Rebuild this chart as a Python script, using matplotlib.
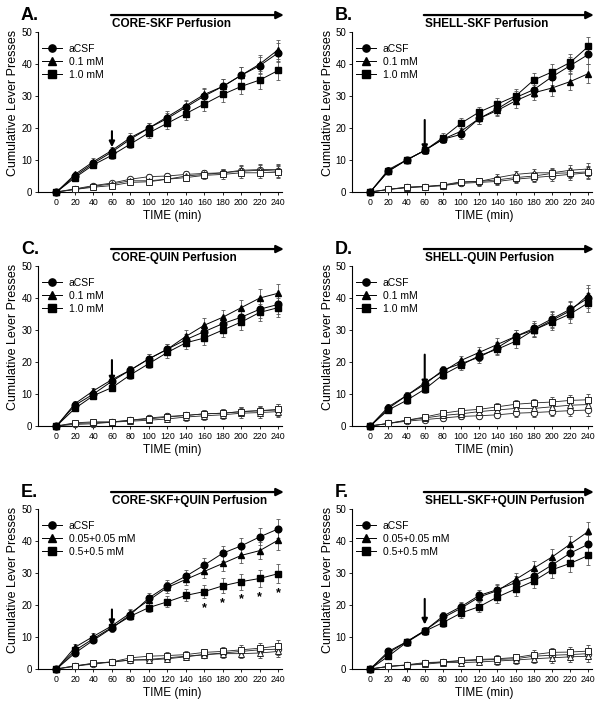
"""Cumulative lever presses over a 4 h session, six perfusion panels (A-F).

Filled symbols = active lever, open symbols = inactive lever.
"""
import matplotlib
matplotlib.use("Agg")
import matplotlib.pyplot as plt
import matplotlib.transforms as mtrans
from matplotlib.lines import Line2D

plt.rcParams["font.family"] = ["Liberation Sans", "DejaVu Sans"]

W, H = 613, 709

TIME = [0, 20, 40, 60, 80, 100, 120, 140, 160, 180, 200, 220, 240]

# ---- A. CORE-SKF
A_CSF = [0, 5.0, 9.0, 12.5, 16.5, 20.0, 23.0, 26.5, 30.0, 33.0, 36.5, 39.5, 43.5]
A_LOW = [0, 5.5, 9.5, 13.0, 17.0, 20.0, 23.5, 27.0, 30.5, 33.0, 36.5, 40.0, 44.5]
A_HIGH = [0, 4.5, 8.5, 11.5, 15.0, 18.5, 21.5, 24.5, 27.5, 30.5, 33.0, 35.0, 38.0]
A_CSF_IN = [0, 1.0, 2.0, 2.8, 4.0, 4.8, 5.0, 5.5, 5.8, 6.0, 6.5, 6.8, 6.5]
A_LOW_IN = [0, 0.8, 1.8, 2.5, 3.5, 3.5, 4.0, 5.0, 5.5, 6.0, 6.8, 7.0, 7.0]
A_HIGH_IN = [0, 0.8, 1.5, 2.0, 3.0, 3.2, 4.0, 4.5, 5.2, 5.5, 6.0, 6.0, 6.2]

# ---- B. SHELL-SKF
B_CSF = [0, 6.5, 10.0, 13.0, 16.5, 18.0, 23.0, 26.0, 29.5, 32.0, 36.0, 39.5, 43.0]
B_LOW = [0, 7.0, 10.0, 13.0, 16.5, 19.0, 23.0, 25.5, 28.5, 31.0, 32.5, 34.5, 37.0]
B_HIGH = [0, 6.5, 10.0, 13.0, 17.0, 21.5, 25.0, 27.5, 30.0, 35.0, 37.5, 40.5, 45.5]
B_CSF_IN = [0, 0.8, 1.5, 1.7, 2.0, 2.7, 3.0, 3.3, 4.0, 4.5, 5.0, 5.5, 6.0]
B_LOW_IN = [0, 0.8, 1.3, 1.7, 2.0, 3.0, 3.3, 4.5, 5.5, 6.0, 6.0, 6.8, 7.2]
B_HIGH_IN = [0, 0.8, 1.5, 1.7, 2.2, 3.2, 3.3, 3.8, 4.5, 5.0, 5.8, 6.0, 6.3]

# ---- C. CORE-QUIN
C_CSF = [0, 6.5, 10.0, 14.0, 17.5, 21.0, 24.0, 27.0, 29.5, 32.0, 34.0, 36.5, 38.0]
C_LOW = [0, 7.0, 11.0, 14.5, 17.5, 21.0, 24.0, 28.0, 31.5, 34.0, 37.0, 40.0, 41.5]
C_HIGH = [0, 5.5, 9.5, 12.0, 16.0, 19.5, 23.0, 26.0, 27.5, 30.0, 32.5, 35.5, 37.0]
C_CSF_IN = [0, 0.5, 0.7, 1.2, 1.8, 2.5, 3.0, 3.3, 3.8, 4.0, 4.5, 4.8, 5.0]
C_LOW_IN = [0, 0.8, 1.0, 1.2, 1.5, 1.8, 2.2, 2.8, 3.2, 3.5, 4.0, 4.2, 4.5]
C_HIGH_IN = [0, 1.0, 1.3, 1.3, 1.8, 2.2, 2.8, 3.3, 3.8, 4.0, 4.5, 4.8, 5.2]

# ---- D. SHELL-QUIN
D_CSF = [0, 5.5, 9.5, 13.0, 17.5, 19.5, 21.5, 24.5, 28.0, 30.5, 33.5, 36.5, 40.0]
D_LOW = [0, 6.0, 9.5, 13.5, 17.0, 20.5, 23.0, 25.5, 28.0, 30.0, 33.0, 36.0, 41.0]
D_HIGH = [0, 5.0, 8.0, 11.5, 16.0, 19.0, 22.0, 24.0, 26.5, 30.0, 32.5, 35.0, 38.5]
D_CSF_IN = [0, 0.8, 1.5, 2.0, 2.5, 3.0, 3.2, 3.5, 4.0, 4.2, 4.5, 4.8, 5.0]
D_LOW_IN = [0, 0.8, 1.8, 2.5, 3.3, 3.8, 4.5, 5.0, 5.5, 5.5, 6.0, 6.5, 6.7]
D_HIGH_IN = [0, 0.8, 1.8, 2.8, 4.0, 4.8, 5.2, 6.0, 6.8, 7.2, 7.5, 8.0, 8.2]

# ---- E. CORE-SKF+QUIN
E_CSF = [0, 5.0, 9.0, 12.8, 17.0, 22.2, 26.0, 29.0, 32.5, 36.2, 38.5, 41.3, 43.8]
E_LOW = [0, 6.8, 10.2, 13.5, 17.5, 21.5, 25.5, 28.0, 30.5, 33.0, 35.5, 37.0, 40.3]
E_HIGH = [0, 5.8, 9.5, 13.0, 16.5, 19.2, 21.0, 23.0, 24.2, 26.0, 27.3, 28.3, 29.8]
E_CSF_IN = [0, 1.0, 1.5, 2.2, 2.8, 3.0, 3.5, 4.0, 4.5, 5.0, 5.5, 6.0, 6.2]
E_LOW_IN = [0, 0.8, 1.8, 2.2, 2.8, 2.8, 3.2, 3.8, 4.5, 4.8, 4.8, 5.0, 5.5]
E_HIGH_IN = [0, 1.0, 1.8, 2.2, 3.5, 4.0, 4.2, 4.5, 5.2, 5.5, 6.0, 6.5, 7.2]
E_STAR_TIMES = [160, 180, 200, 220, 240]

# ---- F. SHELL-SKF+QUIN
F_CSF = [0, 5.5, 8.5, 12.0, 16.5, 19.5, 23.0, 24.8, 27.0, 29.0, 32.5, 36.2, 39.0]
F_LOW = [0, 5.0, 8.5, 12.0, 16.0, 19.0, 22.5, 24.5, 28.0, 31.5, 35.0, 39.0, 43.0]
F_HIGH = [0, 4.0, 8.3, 11.8, 14.5, 17.5, 19.5, 22.5, 25.0, 27.5, 31.0, 33.0, 35.5]
F_CSF_IN = [0, 0.8, 1.2, 1.8, 2.2, 2.5, 2.8, 3.0, 3.2, 4.0, 4.3, 4.5, 4.8]
F_LOW_IN = [0, 0.8, 1.2, 1.5, 2.0, 2.0, 2.2, 2.5, 2.8, 3.2, 3.5, 3.8, 4.0]
F_HIGH_IN = [0, 0.8, 1.3, 2.0, 2.2, 2.7, 3.0, 3.2, 3.6, 4.5, 5.2, 5.3, 5.6]

# SEM
ERR_ACTIVE = [0, 0.9, 1.0, 1.1, 1.3, 1.5, 1.7, 1.9, 2.1, 2.3, 2.5, 2.7, 3.0]
ERR_INACTIVE = [0, 0.4, 0.5, 0.6, 0.8, 0.9, 1.0, 1.1, 1.2, 1.3, 1.5, 1.6, 1.8]

DOSES_SINGLE = ["aCSF", "0.1 mM", "1.0 mM"]
DOSES_COMBO = ["aCSF", "0.05+0.05 mM", "0.5+0.5 mM"]

PANELS = [
    ("A.", "CORE-SKF Perfusion", DOSES_SINGLE,
     [A_CSF, A_LOW, A_HIGH], [A_CSF_IN, A_LOW_IN, A_HIGH_IN], (19.0, 14.0)),
    ("B.", "SHELL-SKF Perfusion", DOSES_SINGLE,
     [B_CSF, B_LOW, B_HIGH], [B_CSF_IN, B_LOW_IN, B_HIGH_IN], (22.5, 12.8)),
    ("C.", "CORE-QUIN Perfusion", DOSES_SINGLE,
     [C_CSF, C_LOW, C_HIGH], [C_CSF_IN, C_LOW_IN, C_HIGH_IN], (20.6, 13.6)),
    ("D.", "SHELL-QUIN Perfusion", DOSES_SINGLE,
     [D_CSF, D_LOW, D_HIGH], [D_CSF_IN, D_LOW_IN, D_HIGH_IN], (22.3, 12.4)),
    ("E.", "CORE-SKF+QUIN Perfusion", DOSES_COMBO,
     [E_CSF, E_LOW, E_HIGH], [E_CSF_IN, E_LOW_IN, E_HIGH_IN], (18.6, 13.4)),
    ("F.", "SHELL-SKF+QUIN Perfusion", DOSES_COMBO,
     [F_CSF, F_LOW, F_HIGH], [F_CSF_IN, F_LOW_IN, F_HIGH_IN], (21.9, 13.9)),
]

MARKERS = ["o", "^", "s"]

# axes boxes in pixels: (left, bottom measured from top, width)
COLS = [(38, 244), (352, 240)]
ROW_BOTTOMS = [192, 426, 669]
AX_H = 160


def draw_panel(ax, letter, title, doses, active, inactive, arrow):
    for vals, mk in zip(inactive, MARKERS):
        ax.errorbar(TIME, vals, yerr=ERR_INACTIVE, fmt="-" + mk, color="#222222",
                    mfc="white", mec="#222222", mew=0.7, ms=4.6, lw=0.6,
                    elinewidth=0.6, ecolor="#555555", capsize=1.4, capthick=0.6,
                    clip_on=False, zorder=3)
    for vals, mk in zip(active, MARKERS):
        ax.errorbar(TIME, vals, yerr=ERR_ACTIVE, fmt="-" + mk, color="black",
                    mfc="black", mec="black", ms=4.8, lw=0.7,
                    elinewidth=0.6, ecolor="#555555", capsize=1.4, capthick=0.6,
                    clip_on=False, zorder=4)

    ax.set_xlim(-20, 244)
    ax.set_ylim(0, 50)
    ax.set_xticks(TIME)
    ax.set_yticks([0, 10, 20, 30, 40, 50])
    ax.tick_params(axis="x", labelsize=6.3, length=2.5, width=0.6, pad=2)
    ax.tick_params(axis="y", labelsize=7, length=2.5, width=0.6, pad=1.5)
    for s in ("top", "right"):
        ax.spines[s].set_visible(False)
    for s in ("left", "bottom"):
        ax.spines[s].set_linewidth(0.8)

    ax.set_xlabel("TIME (min)", fontsize=8.5)
    ax.set_ylabel("Cumulative Lever Presses", fontsize=9)
    ax.xaxis.set_label_coords(0.55, -0.113)
    ax.yaxis.set_label_coords(-0.076, 0.555)

    handles = [Line2D([0], [0], color="black", lw=0.7, marker=mk, ms=5.2,
                      mfc="black", mec="black") for mk in MARKERS]
    ax.legend(handles, doses, loc="upper left", bbox_to_anchor=(0.015, 0.925),
              frameon=False, fontsize=7.5, borderaxespad=0, borderpad=0,
              handlelength=2.0, handletextpad=0.6, labelspacing=0.28)

    # injection arrow at 60 min
    ax.annotate("", xy=(60, arrow[1]), xytext=(60, arrow[0]),
                arrowprops=dict(arrowstyle="-|>", color="black", lw=1.5,
                                mutation_scale=8, shrinkA=0, shrinkB=0),
                zorder=6)

    # perfusion bar on top
    trans = mtrans.blended_transform_factory(ax.transData, ax.transAxes)
    ax.annotate("", xy=(246, 1.106), xytext=(59, 1.106), xycoords=trans,
                textcoords=trans, annotation_clip=False,
                arrowprops=dict(arrowstyle="-|>", color="black", lw=1.6,
                                mutation_scale=11, shrinkA=0, shrinkB=0))
    ax.text(60, 1.052, title, transform=trans, fontsize=8.5, fontweight="bold",
            ha="left", va="center")
    ax.text(-0.07, 1.106, letter, transform=ax.transAxes, fontsize=13,
            fontweight="bold", ha="left", va="center")


fig = plt.figure(figsize=(W / 100, H / 100), dpi=100)
axes = []
for i, (letter, title, doses, active, inactive, arrow) in enumerate(PANELS):
    left, width = COLS[i % 2]
    bottom = ROW_BOTTOMS[i // 2]
    ax = fig.add_axes([left / W, 1 - bottom / H, width / W, AX_H / H])
    draw_panel(ax, letter, title, doses, active, inactive, arrow)
    axes.append(ax)

# significance stars under the high-dose combo (panel E)
ax_e = axes[4]
for t in E_STAR_TIMES:
    k = TIME.index(t)
    ax_e.text(t, E_HIGH[k] - ERR_ACTIVE[k] - 1.2, "*", ha="center", va="top",
              fontsize=9, fontweight="bold")

fig.savefig("out.png", dpi=100)
